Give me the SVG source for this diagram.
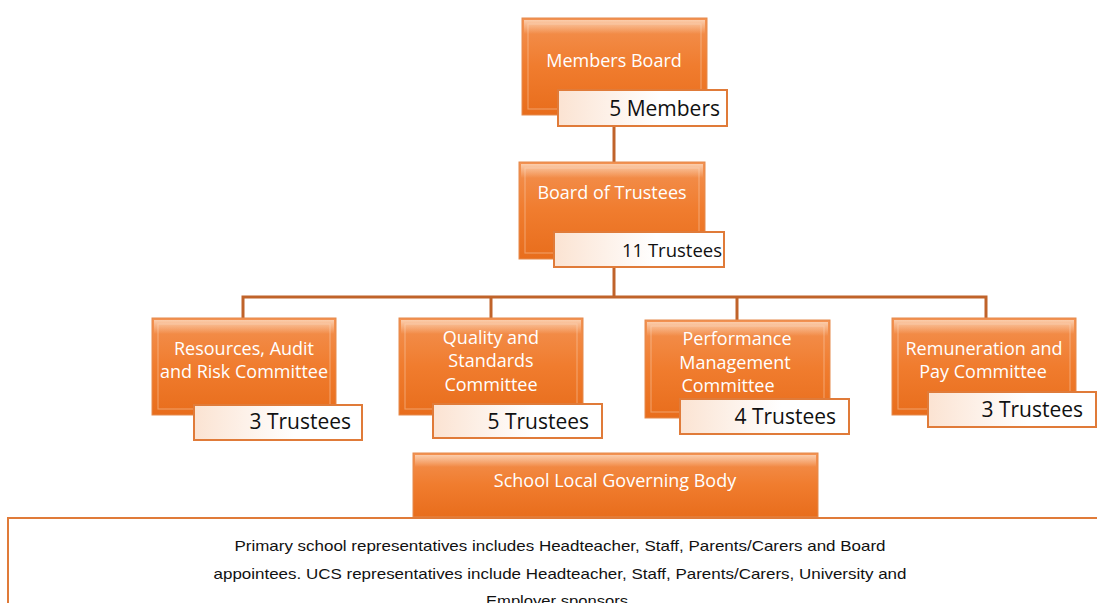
<svg xmlns="http://www.w3.org/2000/svg" width="1097" height="603" viewBox="0 0 1097 603">
<defs>
<linearGradient id="og" x1="0" y1="0" x2="0" y2="1">
<stop offset="0" stop-color="#F39252"/>
<stop offset="0.5" stop-color="#F07C2E"/>
<stop offset="1" stop-color="#E86D1C"/>
</linearGradient>
<linearGradient id="hl" x1="0" y1="0" x2="0" y2="1">
<stop offset="0" stop-color="#FCD3B5" stop-opacity="0.9"/>
<stop offset="1" stop-color="#FCD3B5" stop-opacity="0"/>
</linearGradient>
<linearGradient id="lg" x1="0" y1="0" x2="1" y2="0">
<stop offset="0" stop-color="#FBE3D2"/>
<stop offset="0.6" stop-color="#FFFFFF"/>
<stop offset="1" stop-color="#FFFFFF"/>
</linearGradient>
<style>
.box{fill:url(#og);stroke:#E58A4C;stroke-width:1}
.bev{fill:url(#hl)}
.edge{fill:none;stroke:#FBD9C0;stroke-width:1.2;opacity:0.4}
.lab{fill:url(#lg);stroke:#E07B39;stroke-width:2}
.t{font-family:"Open Sans","Liberation Sans",sans-serif;fill:#FFFFFF;font-size:18px;text-anchor:middle}
.n{font-family:"Open Sans","Liberation Sans",sans-serif;fill:#111111;font-size:21px;text-anchor:end}
.b{font-family:"Liberation Sans Narrow","Liberation Sans",sans-serif;fill:#111111;font-size:15px;text-anchor:middle}
.c{fill:none;stroke:#C0632A;stroke-width:3}
</style>
</defs>
<g id="connectors">
<line class="c" x1="614" y1="126" x2="614" y2="162"/>
<line class="c" x1="614" y1="267" x2="614" y2="298"/>
<polyline class="c" points="243,318 243,297 986,297 986,318"/>
<line class="c" x1="491" y1="297" x2="491" y2="318"/>
<line class="c" x1="737" y1="297" x2="737" y2="320"/>
</g>
<g id="members-board">
<rect class="box" x="522" y="18" width="185" height="97"/>
<rect class="bev" x="524" y="20" width="181" height="14"/>
<rect class="edge" x="528" y="24" width="173" height="85"/>
<text class="t" x="614" y="67">Members Board</text>
<rect class="lab" x="558" y="90" width="169" height="36"/>
<text class="n" x="720" y="116">5 Members</text>
</g>
<g id="board-of-trustees">
<rect class="box" x="519" y="162" width="186" height="97"/>
<rect class="bev" x="521" y="164" width="182" height="14"/>
<rect class="edge" x="525" y="168" width="174" height="85"/>
<text class="t" x="612" y="199">Board of Trustees</text>
<rect class="lab" x="554" y="232" width="170" height="35"/>
<text class="n" x="722" y="257" style="font-size:18.5px">11 Trustees</text>
</g>
<g id="resources-committee">
<rect class="box" x="152" y="318" width="184" height="97"/>
<rect class="bev" x="154" y="320" width="180" height="14"/>
<rect class="edge" x="158" y="324" width="172" height="85"/>
<text class="t" x="244" y="355">Resources, Audit</text>
<text class="t" x="244" y="378">and Risk Committee</text>
<rect class="lab" x="194" y="405" width="168" height="35"/>
<text class="n" x="351" y="429">3 Trustees</text>
</g>
<g id="quality-committee">
<rect class="box" x="399" y="318" width="184" height="97"/>
<rect class="bev" x="401" y="320" width="180" height="14"/>
<rect class="edge" x="405" y="324" width="172" height="85"/>
<text class="t" x="491" y="344">Quality and</text>
<text class="t" x="491" y="367">Standards</text>
<text class="t" x="491" y="391">Committee</text>
<rect class="lab" x="433" y="404" width="169" height="34"/>
<text class="n" x="589" y="429">5 Trustees</text>
</g>
<g id="performance-committee">
<rect class="box" x="645" y="320" width="185" height="98"/>
<rect class="bev" x="647" y="322" width="181" height="14"/>
<rect class="edge" x="651" y="326" width="173" height="86"/>
<text class="t" x="737" y="345">Performance</text>
<text class="t" x="735" y="369">Management</text>
<text class="t" x="728" y="392">Committee</text>
<rect class="lab" x="680" y="399" width="169" height="35"/>
<text class="n" x="836" y="424">4 Trustees</text>
</g>
<g id="remuneration-committee">
<rect class="box" x="892" y="318" width="184" height="97"/>
<rect class="bev" x="894" y="320" width="180" height="14"/>
<rect class="edge" x="898" y="324" width="172" height="85"/>
<text class="t" x="984" y="355">Remuneration and</text>
<text class="t" x="983" y="378">Pay Committee</text>
<rect class="lab" x="928" y="392" width="168" height="35"/>
<text class="n" x="1083" y="417">3 Trustees</text>
</g>
<g id="school-local-governing-body">
<rect class="box" x="413" y="453" width="405" height="64"/>
<rect class="bev" x="415" y="455" width="401" height="12"/>
<text class="t" x="615" y="487" style="font-size:18px">School Local Governing Body</text>
</g>
<g id="description">
<rect x="8" y="518" width="1100" height="100" fill="#FFFFFF" stroke="#E07B39" stroke-width="2"/>
<text class="b" x="560" y="551" textLength="651" lengthAdjust="spacingAndGlyphs">Primary school representatives includes Headteacher, Staff, Parents/Carers and Board</text>
<text class="b" x="560" y="579" textLength="693" lengthAdjust="spacingAndGlyphs">appointees. UCS representatives include Headteacher, Staff, Parents/Carers, University and</text>
<text class="b" x="557" y="606" textLength="142" lengthAdjust="spacingAndGlyphs">Employer sponsors</text>
</g>
</svg>
